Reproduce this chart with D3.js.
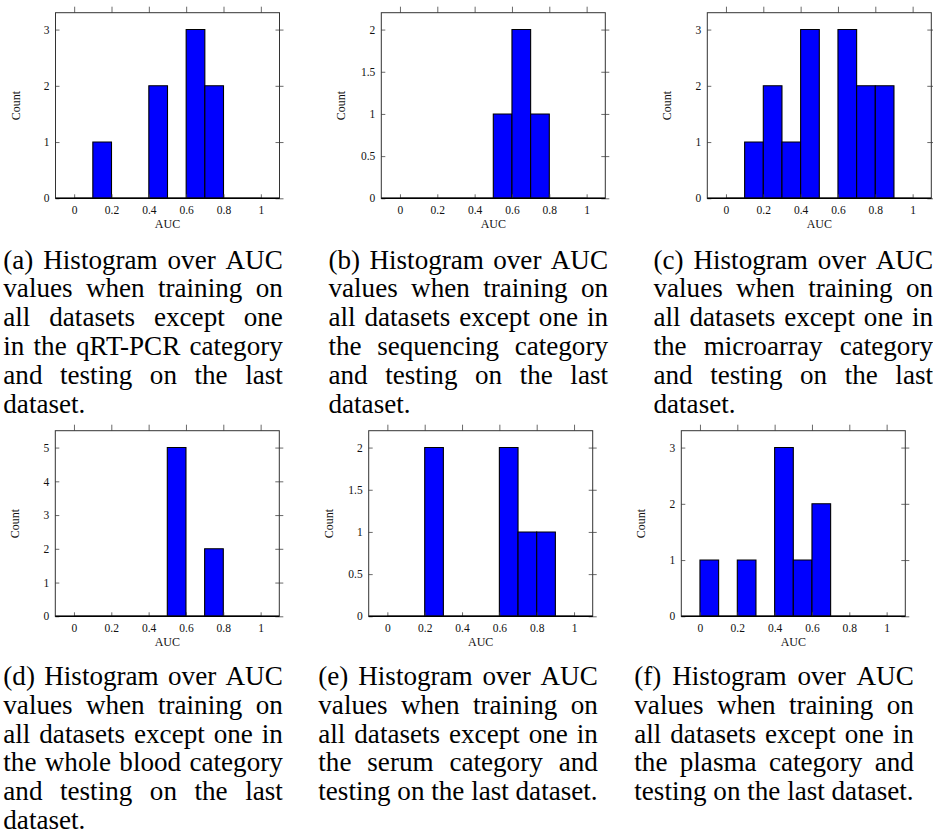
<!DOCTYPE html>
<html>
<head>
<meta charset="utf-8">
<script src="https://cdn.jsdelivr.net/npm/d3@7"></script>
<style>
  html, body { margin: 0; padding: 0; background: #ffffff; }
  svg { display: block; }
</style>
</head>
<body>
<svg id="fig" width="933" height="835"></svg>
<script>
// Histogram bin edges (AUC) shared by all six panels
const binEdges = [0, 0.1, 0.2, 0.3, 0.4, 0.5, 0.6, 0.7, 0.8, 0.9, 1.0];

// Counts per bin, one array per data category
const countsQrtPcr     = [0, 1, 0, 0, 2, 0, 3, 2, 0, 0];
const countsSequencing = [0, 0, 0, 0, 0, 1, 2, 1, 0, 0];
const countsMicroarray = [0, 1, 2, 1, 3, 0, 3, 2, 2, 0];
const countsWholeBlood = [0, 0, 0, 0, 0, 5, 0, 2, 0, 0];
const countsSerum      = [0, 0, 2, 0, 0, 0, 2, 1, 1, 0];
const countsPlasma     = [1, 0, 1, 0, 3, 1, 2, 0, 0, 0];

// Tick values
const xTicks = [0, 0.2, 0.4, 0.6, 0.8, 1];
const yTicksInt3 = [0, 1, 2, 3];
const yTicksHalf2 = [0, 0.5, 1, 1.5, 2];
const yTicksInt5 = [0, 1, 2, 3, 4, 5];

// Axis titles
const xTitle = "AUC";
const yTitle = "Count";

// Sub-captions, broken into lines
const captionA = ["(a) Histogram over AUC", "values when training on", "all datasets except one",
  "in the qRT-PCR category", "and testing on the last", "dataset."];
const captionB = ["(b) Histogram over AUC", "values when training on", "all datasets except one in",
  "the sequencing category", "and testing on the last", "dataset."];
const captionC = ["(c) Histogram over AUC", "values when training on", "all datasets except one in",
  "the microarray category", "and testing on the last", "dataset."];
const captionD = ["(d) Histogram over AUC", "values when training on", "all datasets except one in",
  "the whole blood category", "and testing on the last", "dataset."];
const captionE = ["(e) Histogram over AUC", "values when training on", "all datasets except one in",
  "the serum category and", "testing on the last dataset."];
const captionF = ["(f) Histogram over AUC", "values when training on", "all datasets except one in",
  "the plasma category and", "testing on the last dataset."];

// Layout of each sub-figure: plot box and caption block
const PLOT_W = 224, PLOT_H = 185.6;
const panels = [
  { counts: countsQrtPcr,     yTicks: yTicksInt3,  caption: captionA, left: 55.5,  top: 12.7,  capX: 3.3,   capY: 268.5 },
  { counts: countsSequencing, yTicks: yTicksHalf2, caption: captionB, left: 381.3, top: 12.7,  capX: 328.5, capY: 268.5 },
  { counts: countsMicroarray, yTicks: yTicksInt3,  caption: captionC, left: 707.3, top: 12.7,  capX: 653.5, capY: 268.5 },
  { counts: countsWholeBlood, yTicks: yTicksInt5,  caption: captionD, left: 55.3,  top: 430.7, capX: 3.3,   capY: 685 },
  { counts: countsSerum,      yTicks: yTicksHalf2, caption: captionE, left: 368.7, top: 430.7, capX: 318.3, capY: 685 },
  { counts: countsPlasma,     yTicks: yTicksInt3,  caption: captionF, left: 681.3, top: 430.7, capX: 634.3, capY: 685 }
];

const SERIF = "'Liberation Serif', 'Times New Roman', serif";
const CAP_W = 279.5, CAP_LEAD = 28.8;
const svg = d3.select("#fig");
svg.append("rect").attr("width", 933).attr("height", 835).attr("fill", "#fff");

// Measure text widths with a hidden probe element
const probe = svg.append("text").attr("font-family", SERIF).attr("x", -1000).attr("y", -1000);
function measure(str, size) {
  probe.attr("font-size", size).text(str);
  return probe.node().getComputedTextLength();
}
// Caption size chosen so an unjustified full line spans the caption width
const capSize = 100 * 279.5 / measure("testing on the last dataset.", 100);

const fmt = d3.format("~g");

panels.forEach(p => {
  const g = svg.append("g");
  const x = d3.scaleLinear().domain([-0.1, 1.1]).range([p.left, p.left + PLOT_W]);
  const yMax = d3.max(p.counts);
  const y = d3.scaleLinear().domain([0, yMax * 1.1]).range([p.top + PLOT_H, p.top]);
  const bottom = p.top + PLOT_H;

  // Bars (zero-count bins collapse to a line along the base)
  const bins = p.counts.map((c, i) => ({ x0: binEdges[i], x1: binEdges[i + 1], c }));
  g.append("g").selectAll("path").data(bins).join("path")
    .attr("d", d => {
      const pa = d3.path();
      pa.moveTo(x(d.x0), y(0));
      pa.lineTo(x(d.x0), y(d.c));
      pa.lineTo(x(d.x1), y(d.c));
      pa.lineTo(x(d.x1), y(0));
      pa.closePath();
      return pa.toString();
    })
    .attr("fill", "#0000ff")
    .attr("stroke", "#000")
    .attr("stroke-width", 1.1);

  // Axes
  const axStyle = sel => {
    sel.select(".domain").remove();
    sel.selectAll("line").attr("stroke", "#444").attr("stroke-width", 0.8);
    sel.selectAll("text").attr("font-family", SERIF).attr("font-size", 11.5).attr("fill", "#111");
  };
  g.append("g").attr("transform", `translate(0,${bottom})`)
    .call(d3.axisBottom(x).tickValues(xTicks).tickFormat(fmt).tickSizeInner(-4).tickSizeOuter(0).tickPadding(8))
    .call(axStyle);
  g.append("g").attr("transform", `translate(0,${p.top})`)
    .call(d3.axisTop(x).tickValues(xTicks).tickFormat("").tickSizeInner(6).tickSizeOuter(0))
    .call(axStyle);
  g.append("g").attr("transform", `translate(${p.left},0)`)
    .call(d3.axisLeft(y).tickValues(p.yTicks).tickFormat(fmt).tickSizeInner(-4).tickSizeOuter(0).tickPadding(6))
    .call(axStyle);
  g.append("g").attr("transform", `translate(${p.left + PLOT_W},0)`)
    .call(d3.axisRight(y).tickValues(p.yTicks).tickFormat("").tickSizeInner(4).tickSizeOuter(0))
    .call(axStyle);
  g.append("g").attr("transform", `translate(${p.left + PLOT_W},0)`)
    .call(d3.axisRight(y).tickValues(p.yTicks).tickFormat("").tickSizeInner(-4).tickSizeOuter(0))
    .call(axStyle);

  // Plot frame
  g.append("rect").attr("x", p.left).attr("y", p.top).attr("width", PLOT_W).attr("height", PLOT_H)
    .attr("fill", "none").attr("stroke", "#333").attr("stroke-width", 1);
  g.append("line").attr("x1", p.left).attr("x2", p.left + PLOT_W).attr("y1", bottom).attr("y2", bottom)
    .attr("stroke", "#000").attr("stroke-width", 1.4);

  // Axis titles
  g.append("text").attr("x", p.left + PLOT_W / 2).attr("y", bottom + 29.5)
    .attr("text-anchor", "middle").attr("font-family", SERIF).attr("font-size", 12).attr("fill", "#111")
    .text(xTitle);
  g.append("text").attr("transform", `translate(${p.left - 36},${p.top + PLOT_H / 2}) rotate(-90)`)
    .attr("text-anchor", "middle").attr("font-family", SERIF).attr("font-size", 12).attr("fill", "#111")
    .text(yTitle);

  // Justified caption
  const cap = g.append("text").attr("font-family", SERIF).attr("font-size", capSize).attr("fill", "#000");
  p.caption.forEach((line, li) => {
    const words = line.split(" ");
    const widths = words.map(w => measure(w, capSize));
    const last = li === p.caption.length - 1;
    const spaceW = measure("a a", capSize) - measure("aa", capSize);
    let gap = spaceW;
    if (!last && words.length > 1) {
      gap = Math.max(spaceW * 0.6, (CAP_W - d3.sum(widths)) / (words.length - 1));
    }
    let cx = p.capX;
    words.forEach((w, wi) => {
      cap.append("tspan").attr("x", cx).attr("y", p.capY + li * CAP_LEAD).text(w);
      cx += widths[wi] + gap;
    });
  });
});
probe.remove();
</script>
</body>
</html>
